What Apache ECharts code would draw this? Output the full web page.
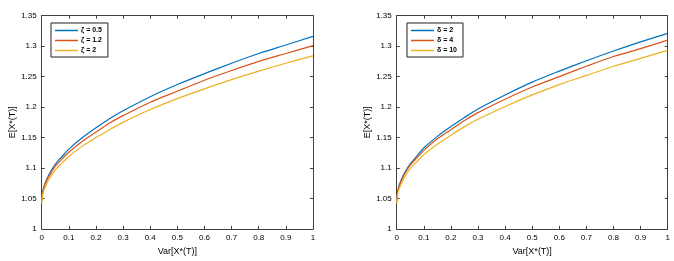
<!DOCTYPE html>
<html><head><meta charset="utf-8">
<script src="https://cdn.jsdelivr.net/npm/echarts@6/dist/echarts.min.js"></script>
<style>html,body{margin:0;padding:0;background:#fff}#c{width:674px;height:261px}</style>
</head><body><div id="c"></div>
<script>
var xs = [0, 0.002, 0.005, 0.01, 0.02, 0.03, 0.05, 0.075, 0.1, 0.15, 0.2, 0.25, 0.3, 0.4, 0.5, 0.6, 0.7, 0.8, 0.9, 1.0];
var xTicks = [0, 0.1, 0.2, 0.3, 0.4, 0.5, 0.6, 0.7, 0.8, 0.9, 1];
var yTicks = [1, 1.05, 1.1, 1.15, 1.2, 1.25, 1.3, 1.35];
var leftNames = ['ζ = 0.5', 'ζ = 1.2', 'ζ = 2'];
var rightNames = ['δ = 2', 'δ = 4', 'δ = 10'];
var zeta05 = [1.045,1.057,1.064,1.072,1.083,1.092,1.106,1.119,1.131,1.150,1.166,1.181,1.194,1.217,1.237,1.255,1.272,1.288,1.302,1.316];
var zeta12 = [1.045,1.056,1.063,1.071,1.081,1.089,1.103,1.115,1.126,1.144,1.159,1.174,1.186,1.208,1.226,1.244,1.260,1.275,1.288,1.301];
var zeta2  = [1.042,1.053,1.059,1.066,1.076,1.084,1.097,1.108,1.119,1.136,1.150,1.163,1.175,1.196,1.214,1.230,1.245,1.259,1.272,1.284];
var delta2  = [1.045,1.057,1.064,1.073,1.084,1.093,1.107,1.120,1.133,1.152,1.168,1.183,1.197,1.220,1.241,1.259,1.276,1.292,1.307,1.321];
var delta4  = [1.045,1.057,1.064,1.071,1.082,1.091,1.105,1.117,1.129,1.148,1.163,1.178,1.191,1.213,1.233,1.250,1.267,1.283,1.296,1.310];
var delta10 = [1.042,1.053,1.060,1.067,1.077,1.086,1.099,1.111,1.122,1.139,1.154,1.168,1.180,1.201,1.220,1.237,1.252,1.267,1.280,1.293];
var colors = ['#0072BD', '#D95319', '#EDB120'];

function pairs(ys){ return xs.map(function(x,i){ return [x, ys[i]]; }); }
var font = 'Liberation Sans, Arial, sans-serif';
var axisCol = '#404040';
function xAx(gi, pos, show){
  return {type:'value', gridIndex:gi, position:pos, min:xTicks[0], max:xTicks[xTicks.length-1], interval:0.1,
    axisLine:{show:true, onZero:false, lineStyle:{color:axisCol, width:1}},
    axisTick:{show:true, inside:true, length:3, lineStyle:{color:axisCol}},
    axisLabel:{show:show, color:'#000', fontSize:8, fontFamily:font, margin:5},
    splitLine:{show:false},
    name: show ? 'Var[X*(T)]' : '', nameLocation:'middle', nameGap:18,
    nameTextStyle:{color:'#000', fontSize:9, fontFamily:font}};
}
function yAx(gi, pos, show){
  return {type:'value', gridIndex:gi, position:pos, min:yTicks[0], max:yTicks[yTicks.length-1], interval:0.05,
    axisLine:{show:true, onZero:false, lineStyle:{color:axisCol, width:1}},
    axisTick:{show:true, inside:true, length:3, lineStyle:{color:axisCol}},
    axisLabel:{show:show, color:'#000', fontSize:8, fontFamily:font, margin:5},
    splitLine:{show:false},
    name: show ? 'E[X*(T)]' : '', nameLocation:'middle', nameGap:24, nameRotate:90,
    nameTextStyle:{color:'#000', fontSize:9, fontFamily:font}};
}
function mk(name, ys, xi, yi, c){
  return {name:name, type:'line', xAxisIndex:xi, yAxisIndex:yi, data:pairs(ys), showSymbol:false, symbol:'none',
    smooth:0.3, lineStyle:{color:c, width:1.2}, itemStyle:{color:c}, animation:false};
}
function lg(names, left){
  return {data:names, orient:'vertical', left:left, top:23, backgroundColor:'#fff', borderColor:'#222', borderWidth:1,
    borderRadius:0, padding:[3,6,2,4], itemGap:1, itemWidth:23, itemHeight:1.5, icon:'rect', itemStyle:{borderWidth:0},
    textStyle:{fontSize:7, fontWeight:'bold', fontFamily:font, color:'#000', lineHeight:9, padding:[0,0,0,-2]}};
}
var chart = echarts.init(document.getElementById('c'), null, {renderer:'canvas'});
chart.setOption({
  animation:false,
  grid:[{left:41.7, right:361, top:15.7, bottom:32},{left:396.7, right:6.3, top:15.7, bottom:32}],
  xAxis:[xAx(0,'bottom',true), xAx(0,'top',false), xAx(1,'bottom',true), xAx(1,'top',false)],
  yAxis:[yAx(0,'left',true), yAx(0,'right',false), yAx(1,'left',true), yAx(1,'right',false)],
  legend:[lg(leftNames, 51), lg(rightNames, 407)],
  series:[
    mk(leftNames[0], zeta05, 0, 0, colors[0]),
    mk(leftNames[1], zeta12, 0, 0, colors[1]),
    mk(leftNames[2], zeta2, 0, 0, colors[2]),
    mk(rightNames[0], delta2, 2, 2, colors[0]),
    mk(rightNames[1], delta4, 2, 2, colors[1]),
    mk(rightNames[2], delta10, 2, 2, colors[2])
  ]
});
</script></body></html>
